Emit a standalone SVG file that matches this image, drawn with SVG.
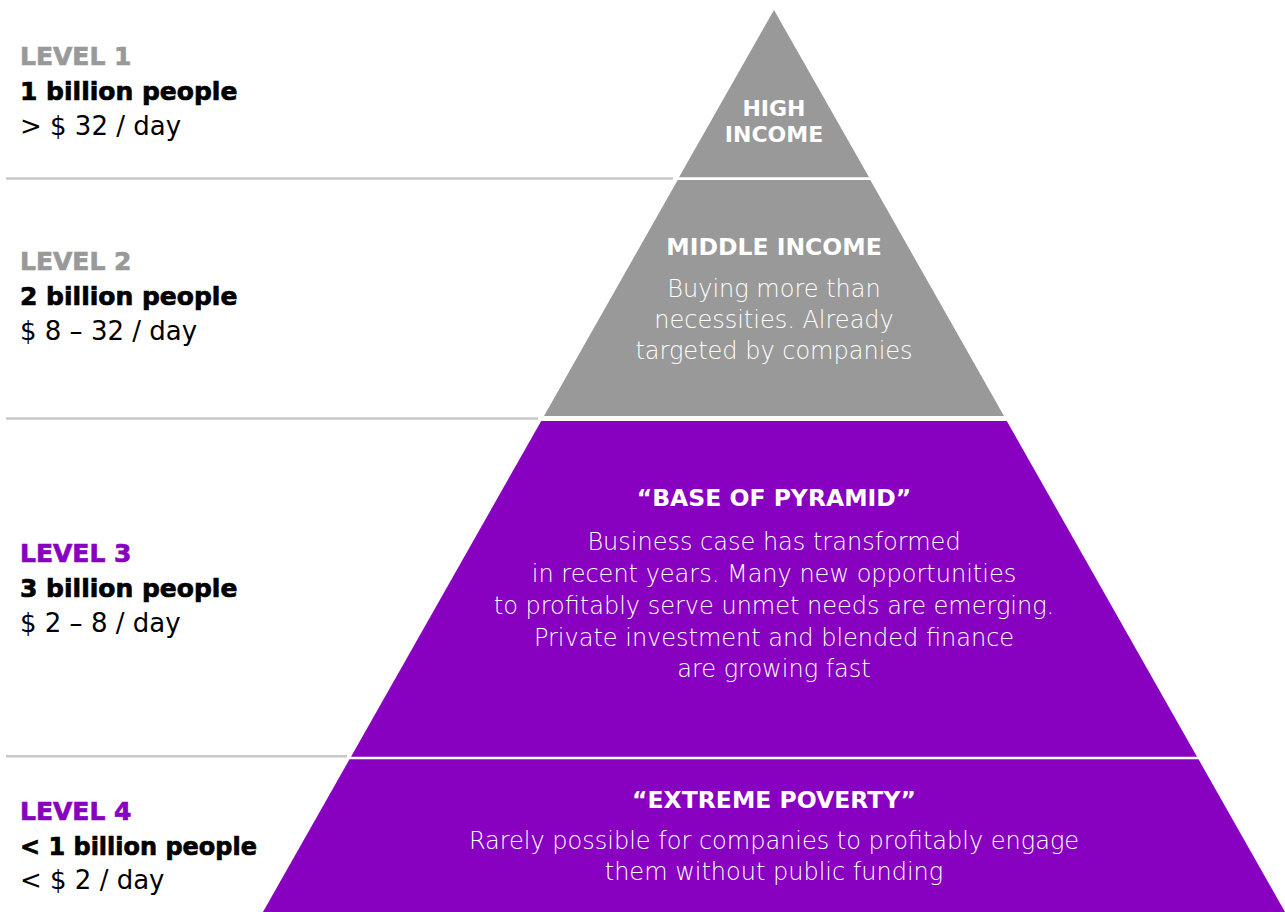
<svg xmlns="http://www.w3.org/2000/svg" width="1285" height="912" viewBox="0 0 1285 912">
<style>
.lvl{font-family:"DejaVu Sans","Liberation Sans",sans-serif;font-weight:bold;font-size:25px;stroke-width:0.7px;}
.big{font-family:"DejaVu Sans","Liberation Sans",sans-serif;font-weight:bold;font-size:25px;fill:#000;stroke:#000;stroke-width:0.7px;}
.rate{font-family:"DejaVu Sans","Liberation Sans",sans-serif;font-size:26px;fill:#000;}
.ttl{font-family:"DejaVu Sans","Liberation Sans",sans-serif;font-weight:bold;font-size:23.5px;fill:#fff;text-anchor:middle;}
.hi{font-size:22px;}
.body{font-family:"DejaVu Sans","Liberation Sans",sans-serif;font-weight:200;font-size:24px;fill:#fff;text-anchor:middle;}
.gray{fill:#999999;}
.purple{fill:#8800C0;}
.lvl.gray{stroke:#999999;}
.lvl.purple{stroke:#8800C0;}
.sep{stroke:#c8c8c8;stroke-width:2.5;fill:none;}
</style>
<rect width="1285" height="912" fill="#fff"/>
<g id="connectors">
<line class="sep" x1="6" y1="178.5" x2="673" y2="178.5"/>
<line class="sep" x1="6" y1="418.5" x2="538" y2="418.5"/>
<line class="sep" x1="6" y1="756.3" x2="347" y2="756.3"/>
</g>
<g id="tier-high">
<polygon class="gray" points="774,10 869,177.2 679,177.2"/>
<text class="ttl hi" x="774" y="116">HIGH</text>
<text class="ttl hi" x="774" y="142">INCOME</text>
</g>
<g id="tier-middle">
<polygon class="gray" points="677.7,180 870.3,180 1004,416 544,416"/>
<text class="ttl" x="774" y="255">MIDDLE INCOME</text>
<text class="body" x="774" y="297">Buying more than</text>
<text class="body" x="774" y="328">necessities. Already</text>
<text class="body" x="774" y="359">targeted by companies</text>
</g>
<g id="tier-base">
<polygon class="purple" points="541.2,421 1006.8,421 1197,756.7 351,756.7"/>
<text class="ttl" x="774" y="506">“BASE OF PYRAMID”</text>
<text class="body" x="774" y="550">Business case has transformed</text>
<text class="body" x="774" y="582">in recent years. Many new opportunities</text>
<text class="body" x="774" y="614">to profitably serve unmet needs are emerging.</text>
<text class="body" x="774" y="646">Private investment and blended finance</text>
<text class="body" x="774" y="677">are growing fast</text>
</g>
<g id="tier-extreme">
<polygon class="purple" points="349.5,759.3 1198.5,759.3 1285.6,913 262.4,913"/>
<text class="ttl" x="774" y="808">“EXTREME POVERTY”</text>
<text class="body" x="774" y="849">Rarely possible for companies to profitably engage</text>
<text class="body" x="774" y="880">them without public funding</text>
</g>
<g id="label-level1">
<text class="lvl gray" x="20" y="65">LEVEL 1</text>
<text class="big" x="20" y="100">1 billion people</text>
<text class="rate" x="20" y="135">&gt; $ 32 / day</text>
</g>
<g id="label-level2">
<text class="lvl gray" x="20" y="270">LEVEL 2</text>
<text class="big" x="20" y="305">2 billion people</text>
<text class="rate" x="20" y="340">$ 8 – 32 / day</text>
</g>
<g id="label-level3">
<text class="lvl purple" x="20" y="562">LEVEL 3</text>
<text class="big" x="20" y="597">3 billion people</text>
<text class="rate" x="20" y="632">$ 2 – 8 / day</text>
</g>
<g id="label-level4">
<text class="lvl purple" x="20" y="820">LEVEL 4</text>
<text class="big" x="20" y="855" textLength="237" lengthAdjust="spacingAndGlyphs">&lt; 1 billion people</text>
<text class="rate" x="20" y="889">&lt; $ 2 / day</text>
</g>
</svg>
